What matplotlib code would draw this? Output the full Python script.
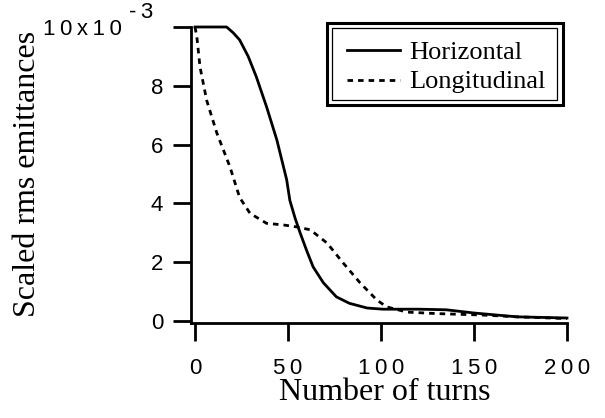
import matplotlib.pyplot as plt
from matplotlib.patches import Rectangle
from matplotlib.transforms import ScaledTranslation

# Number of turns vs scaled rms emittance (units of 1e-3)
horiz_turns = [0, 10, 17, 20.6, 24, 28.6, 33, 38.5, 44, 49.3, 51, 53.8, 56.5, 60,
               63.5, 69, 76, 83, 92.5, 101, 120, 135, 150, 173, 200]
horiz_emit = [10, 10, 10, 9.8, 9.56, 9.0, 8.3, 7.28, 6.16, 4.8, 4.1, 3.5, 3.0, 2.4,
              1.84, 1.3, 0.82, 0.6, 0.44, 0.4, 0.4, 0.38, 0.27, 0.14, 0.1]

long_turns = [0, 1, 2.7, 6.3, 11.7, 18.8, 24, 29.6, 38.5, 47, 54.6, 62, 71, 79.7,
              88.7, 97.8, 103, 114, 130, 155, 173, 200]
long_emit = [10, 9.66, 8.64, 7.5, 6.4, 5.24, 4.2, 3.66, 3.32, 3.27, 3.2, 3.1, 2.65,
             1.97, 1.3, 0.71, 0.48, 0.3, 0.25, 0.2, 0.14, 0.08]

sp = '\u2009'
x_ticks = [0, 50, 100, 150, 200]
x_tick_labels = [sp.join(str(t)) for t in x_ticks]
y_ticks = [0, 2, 4, 6, 8, 10]
y_tick_labels = ['0', '2', '4', '6', '8', sp.join('10x10')]

W, H = 605, 418
fig = plt.figure(figsize=(W / 100, H / 100), dpi=100)
ax = fig.add_axes([191 / W, 1 - 323 / H, (567 - 191) / W, (323 - 27) / H])

ax.plot(horiz_turns, horiz_emit, color='black', lw=2, clip_on=False)
ax.plot(long_turns, long_emit, color='black', lw=2, linestyle=(0, (2, 1.8)),
        clip_on=False)

ax.set_xlim(-2.15, 200)
ax.set_ylim(-0.07, 10)
for side in ['top', 'right']:
    ax.spines[side].set_visible(False)
for side in ['left', 'bottom']:
    ax.spines[side].set_linewidth(2)

tick_font = dict(family=['Liberation Sans', 'DejaVu Sans'], size=16)
ax.set_xticks(x_ticks)
ax.set_xticklabels(x_tick_labels, fontdict=tick_font)
ax.set_yticks(y_ticks)
ax.set_yticklabels(y_tick_labels, fontdict=tick_font)
ax.tick_params(axis='both', direction='out', length=13, width=2)
ax.tick_params(axis='x', pad=12)
ax.tick_params(axis='y', pad=7)

# the top label sits further left to leave room for the exponent
top_label = ax.get_yticklabels()[-1]
top_label.set_transform(top_label.get_transform()
                        + ScaledTranslation(-0.41, 0, fig.dpi_scale_trans))
fig.text(141 / W, 1 - 13 / H, '-' + sp + '3', fontsize=16,
         family=['Liberation Sans', 'DejaVu Sans'], ha='center', va='center')

fig.text(385 / W, 1 - 393 / H, 'Number of turns', fontsize=23,
         family='Liberation Serif', ha='center', va='center')
fig.text(28 / W, 1 - 174 / H, 'Scaled rms emittances', fontsize=23,
         family='Liberation Serif', ha='center', va='center', rotation=90)

# legend with double border
fig.patches.append(Rectangle((327 / W, 1 - 105 / H), (563 - 327) / W, (105 - 23) / H,
                             transform=fig.transFigure, fill=False, lw=2.2,
                             edgecolor='black'))
fig.patches.append(Rectangle((332 / W, 1 - 100 / H), (557 - 332) / W, (100 - 28) / H,
                             transform=fig.transFigure, fill=False, lw=0.9,
                             edgecolor='black'))
fig.lines.append(plt.Line2D([347 / W, 400 / W], [1 - 50 / H, 1 - 50 / H],
                            transform=fig.transFigure, color='black', lw=2))
fig.lines.append(plt.Line2D([347 / W, 400 / W], [1 - 80 / H, 1 - 80 / H],
                            transform=fig.transFigure, color='black', lw=2,
                            linestyle=(0, (2, 1.8))))
fig.text(409 / W, 1 - 59 / H, 'Horizontal', fontsize=19, family='Liberation Serif',
         va='baseline')
fig.text(409 / W, 1 - 88 / H, 'Longitudinal', fontsize=19, family='Liberation Serif',
         va='baseline')

fig.savefig('out.png', dpi=100)
